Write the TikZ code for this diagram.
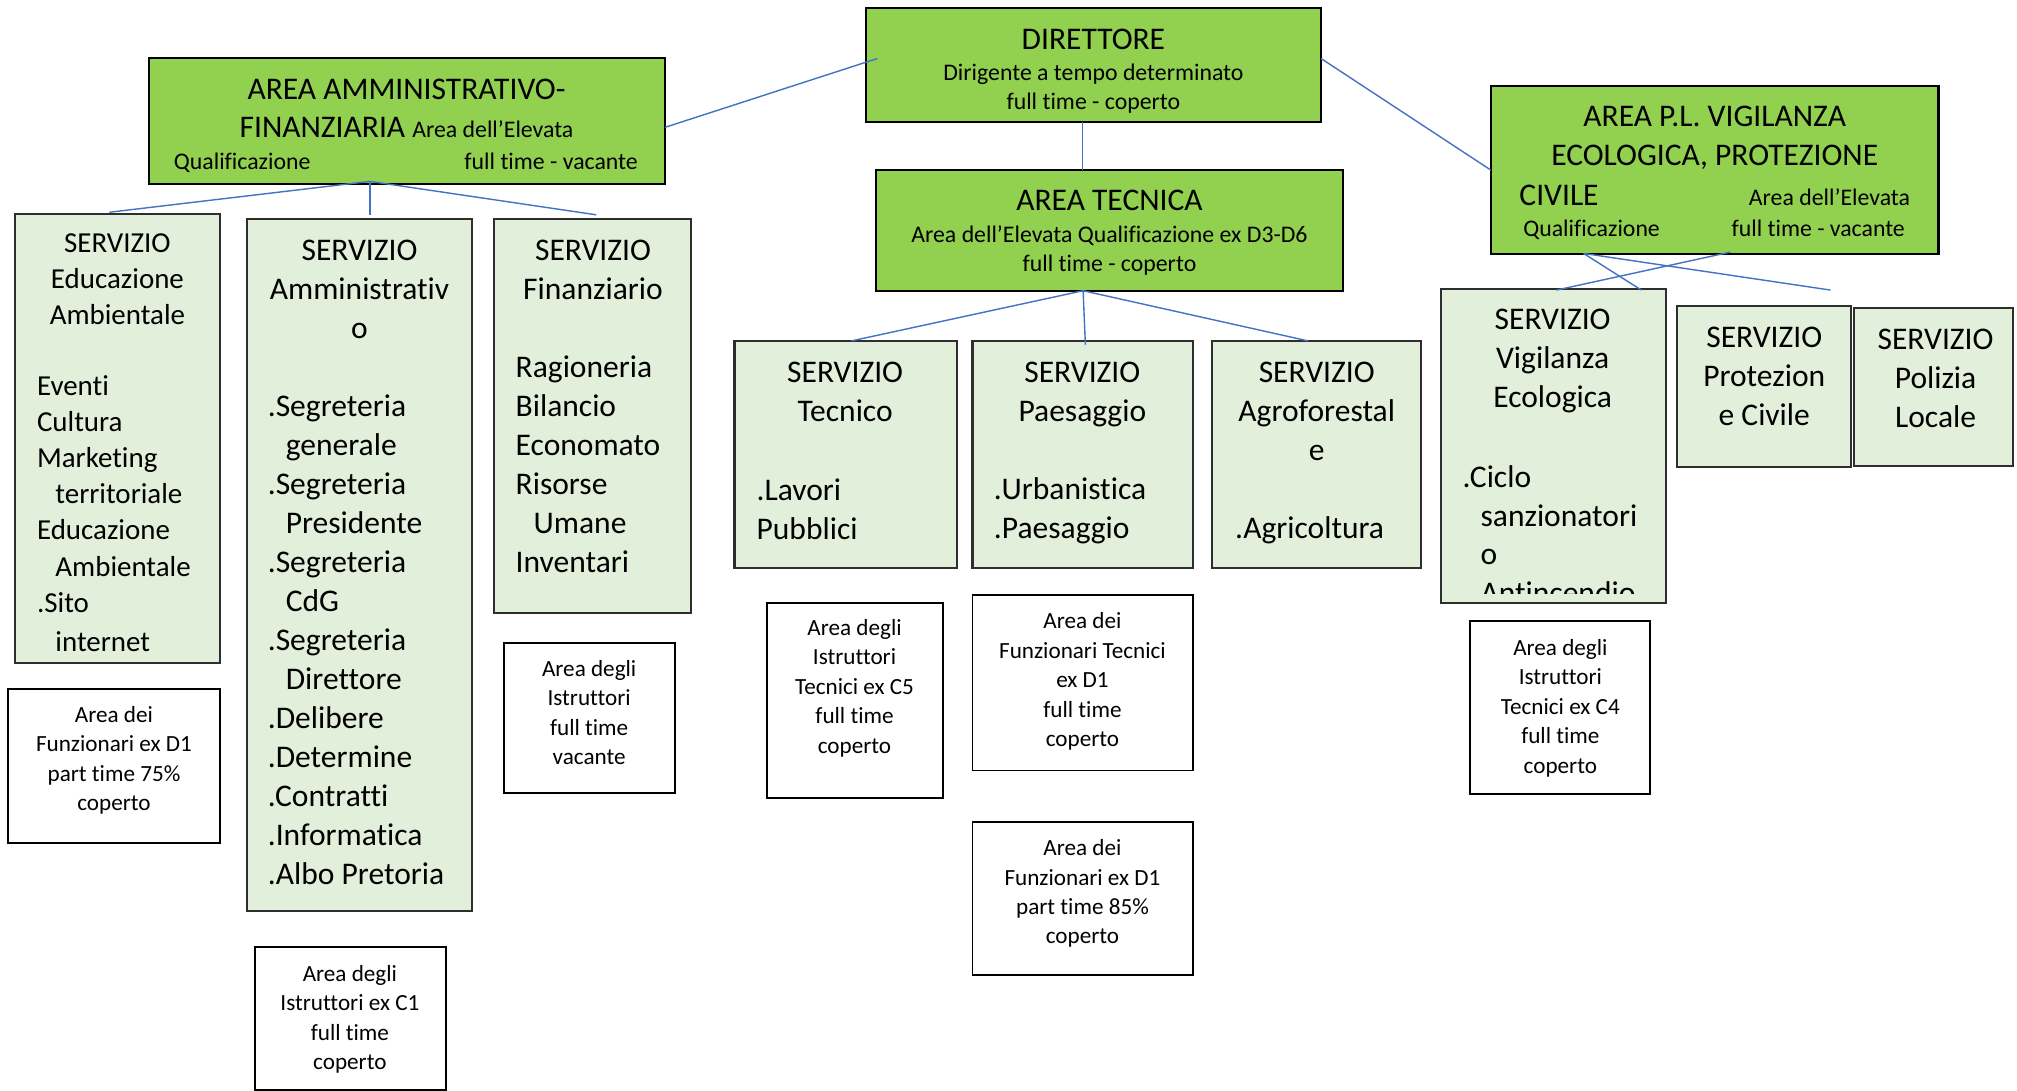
\documentclass[tikz,border=0pt]{standalone}
\usepackage{fontspec}
\setmainfont{Carlito}[Ligatures=NoCommon]
\usetikzlibrary{calc}
\definecolor{topgreen}{HTML}{92D050}
\definecolor{servgreen}{HTML}{E2EFDA}
\definecolor{servborder}{HTML}{2E2E2E}
\definecolor{linkblue}{HTML}{4472C4}
\tikzset{
  boxbase/.style={rectangle, inner sep=0pt, outer sep=0pt, anchor=north west},
  topbox/.style={boxbase, draw=black, line width=1.8pt, fill=topgreen},
  servbox/.style={boxbase, draw=servborder, line width=1.6pt, fill=servgreen},
  whitebox/.style={boxbase, draw=black, line width=1.5pt, fill=white},
  conn/.style={draw=linkblue, line width=1.1pt},
  bigtxt/.style={inner sep=0pt, font=\fontsize{24.5}{30.3}\selectfont},
  smalltop/.style={inner sep=0pt, font=\fontsize{18.5}{23}\selectfont},
  midtxt/.style={inner sep=0pt, font=\fontsize{22.5}{28.1}\selectfont},
  whitetxt/.style={inner sep=0pt, font=\fontsize{18}{22.9}\selectfont, align=center, anchor=north},
  headc/.style={bigtxt, align=center, anchor=north},
  listl/.style={bigtxt, align=left, anchor=north west},
}
\begin{document}
\begin{tikzpicture}[x=1pt,y=-1pt]
\useasboundingbox (0,0) rectangle (1568,848);

% ---------- top level boxes ----------
\node[topbox, minimum width=354pt, minimum height=89pt] (dir) at (673,6) {};
\node[topbox, minimum width=401pt, minimum height=98pt] (amm) at (116,45) {};
\node[topbox, minimum width=363pt, minimum height=94pt] (tec) at (681,132) {};
\node[topbox, minimum width=348pt, minimum height=130.5pt] (pl) at (1159,67) {};

% ---------- service boxes ----------
\node[servbox, minimum width=159pt, minimum height=349.5pt] (educ) at (12,166) {};
\node[servbox, minimum width=175pt, minimum height=538pt] (ammS) at (192,170) {};
\node[servbox, minimum width=153pt, minimum height=306pt] (fin) at (384,170.5) {};
\node[servbox, minimum width=173pt, minimum height=176.5pt] (tecS) at (571,265) {};
\node[servbox, minimum width=171.5pt, minimum height=176.5pt] (pae) at (756,265) {};
\node[servbox, minimum width=162.5pt, minimum height=176.5pt] (agro) at (942.5,265) {};
\node[servbox, minimum width=175pt, minimum height=244pt] (vig) at (1120,225) {};
\node[servbox, minimum width=135pt, minimum height=125pt] (prot) at (1304,238) {};
\node[servbox, minimum width=124pt, minimum height=123pt] (pol) at (1441,239.5) {};

% ---------- white boxes ----------
\node[whitebox, minimum width=165pt, minimum height=120pt] (wEduc) at (6,535.5) {};
\node[whitebox, minimum width=148pt, minimum height=111pt] (wAmm) at (198.5,736) {};
\node[whitebox, minimum width=132.5pt, minimum height=116.5pt] (wFin) at (392,500) {};
\node[whitebox, minimum width=137pt, minimum height=151.5pt] (wTec) at (596,468.5) {};
\node[whitebox, minimum width=171.5pt, minimum height=136.5pt] (wPae1) at (756,462.5) {};
\node[whitebox, minimum width=171.5pt, minimum height=119pt] (wPae2) at (756,639) {};
\node[whitebox, minimum width=140pt, minimum height=134pt] (wVig) at (1143,483) {};

% ---------- texts of top boxes ----------
\node[bigtxt, anchor=base] (tDir1) at (850,38.4) {DIRETTORE};
\node[smalltop, anchor=base] (tDir2) at (850,62.2) {Dirigente a tempo determinato};
\node[smalltop, anchor=base] (tDir3) at (850,85) {full time - coperto};

\node[bigtxt, anchor=base] (tAmm1) at (316,77) {AREA AMMINISTRATIVO-};
\node[bigtxt, anchor=base] (tAmm2) at (316,106.8) {FINANZIARIA {\fontsize{18.5}{23}\selectfont Area dell’Elevata}};
\node[smalltop, anchor=base west] (tAmm3) at (135,132) {Qualificazione};
\node[smalltop, anchor=base east] (tAmm4) at (496,132) {full time - vacante};

\node[bigtxt, anchor=base] (tTec1) at (862.5,164) {AREA TECNICA};
\node[smalltop, anchor=base] (tTec2) at (862.5,188.7) {Area dell’Elevata Qualificazione ex D3-D6};
\node[smalltop, anchor=base] (tTec3) at (862.5,211) {full time - coperto};

\node[bigtxt, anchor=base] (tPl1) at (1333,98.5) {AREA P.L. VIGILANZA};
\node[bigtxt, anchor=base] (tPl2) at (1333,129) {ECOLOGICA, PROTEZIONE};
\node[bigtxt, anchor=base west] (tPl3) at (1181,159.4) {CIVILE};
\node[smalltop, anchor=base east] (tPl4) at (1485,159.4) {Area dell’Elevata};
\node[smalltop, anchor=base west] (tPl5) at (1184,184) {Qualificazione};
\node[smalltop, anchor=base east] (tPl6) at (1481,184) {full time - vacante};

% ---------- texts of service boxes ----------
\node[midtxt, align=center, anchor=north] (hEduc) at (91.3,176.5) {\strut SERVIZIO\\Educazione\\Ambientale};
\node[midtxt, align=left, anchor=north west] (lEduc) at (28.6,287.5) {\strut Eventi\\Cultura\\Marketing\\\hspace*{14.3pt}territoriale\\Educazione\\\hspace*{14.3pt}Ambientale\\.Sito\\[2.5pt]\hspace*{14.3pt}internet};

\node[headc] (hAmm) at (279.5,181) {\strut SERVIZIO\\Amministrativ\\o};
\node[listl] (lAmm) at (208,302.3) {\strut .Segreteria\\\hspace*{14pt}generale\\.Segreteria\\\hspace*{14pt}Presidente\\.Segreteria\\\hspace*{14pt}CdG\\.Segreteria\\\hspace*{14pt}Direttore\\.Delibere\\.Determine\\.Contratti\\.Informatica\\.Albo Pretoria};

\node[headc] (hFin) at (461,181) {\strut SERVIZIO\\Finanziario};
\node[listl] (lFin) at (400.7,271.8) {\strut Ragioneria\\Bilancio\\Economato\\Risorse\\\hspace*{14pt}Umane\\Inventari};

\node[headc] (hTec) at (657,276.3) {\strut SERVIZIO\\Tecnico};
\node[listl] (lTec) at (588,367.6) {\strut .Lavori\\Pubblici};

\node[headc] (hPae) at (841.4,276.3) {\strut SERVIZIO\\Paesaggio};
\node[listl] (lPae) at (772.5,367.2) {\strut .Urbanistica\\.Paesaggio};

\node[headc] (hAgro) at (1023.6,276.3) {\strut SERVIZIO\\Agroforestal\\e};
\node[listl] (lAgro) at (960,397.4) {\strut .Agricoltura};

\node[headc] (hVig) at (1207,234.9) {\strut SERVIZIO\\Vigilanza\\Ecologica};
\begin{scope}
  \clip (vig.north west) rectangle ([yshift=8pt]vig.south east);
  \node[listl] (lVig) at (1136.8,357.2) {\strut .Ciclo\\\hspace*{14pt}sanzionatori\\\hspace*{14pt}o\\\hspace*{14pt}Antincendio};
\end{scope}

\node[headc] (hProt) at (1371.5,248.4) {\strut SERVIZIO\\Protezion\\e Civile};
\node[headc] (hPol) at (1504.7,250.5) {\strut SERVIZIO\\Polizia\\Locale};

% ---------- texts of white boxes ----------
\node[whitetxt] (tWEduc) at (88.6,545.2) {\strut Area dei\\Funzionari ex D1\\part time 75\%\\coperto};
\node[whitetxt] (tWAmm) at (272,746.7) {\strut Area degli\\Istruttori ex C1\\full time\\coperto};
\node[whitetxt] (tWFin) at (458,509.7) {\strut Area degli\\Istruttori\\full time\\vacante};
\node[whitetxt] (tWTec) at (664.3,477.8) {\strut Area degli\\Istruttori\\Tecnici ex C5\\full time\\coperto};
\node[whitetxt] (tWPae1) at (841.5,472.6) {\strut Area dei\\Funzionari Tecnici\\ex D1\\full time\\coperto};
\node[whitetxt] (tWPae2) at (841.5,648.9) {\strut Area dei\\Funzionari ex D1\\part time 85\%\\coperto};
\node[whitetxt] (tWVig) at (1213,493.3) {\strut Area degli\\Istruttori\\Tecnici ex C4\\full time\\coperto};

% ---------- connectors ----------
\coordinate (dirL) at ([xshift=9pt,yshift=5pt]dir.west);
\coordinate (dirR) at ([yshift=5pt]dir.east);
\coordinate (dirB) at ([xshift=-8.4pt]dir.south);
\coordinate (ammJ) at ([xshift=-29pt,yshift=2pt]amm.south);
\coordinate (tecJ) at ([xshift=-20.5pt]tec.south);
\coordinate (plA) at ([xshift=-102pt,yshift=0.5pt]pl.south);
\coordinate (plB) at ([xshift=12pt,yshift=1.5pt]pl.south);
\coordinate (plEnd) at (1423,225.5);

\draw[conn] ([yshift=-5pt]amm.east) -- (dirL);
\draw[conn] (dirR) -- (pl.west);
\draw[conn] (dirB) -- (dirB |- tec.north);

\draw[conn] (ammJ) -- ([xshift=-6.5pt,yshift=1pt]educ.north);
\draw[conn] (ammJ) -- ([xshift=8pt,yshift=3pt]ammS.north);
\draw[conn] (ammJ) -- ([xshift=3pt,yshift=3.5pt]fin.north);

\draw[conn] (tecJ) -- ([xshift=4.5pt]tecS.north);
\draw[conn] (tecJ) -- ([xshift=2pt,yshift=-3pt]pae.north);
\draw[conn] (tecJ) -- ([xshift=-7pt]agro.north);

\draw[conn] (plA) -- ([xshift=68.5pt,yshift=-0.5pt]vig.north);
\draw[conn] (plB) -- ([xshift=2.5pt,yshift=-0.5pt]vig.north);
\draw[conn] (plA) -- (plEnd);
\end{tikzpicture}
\end{document}
